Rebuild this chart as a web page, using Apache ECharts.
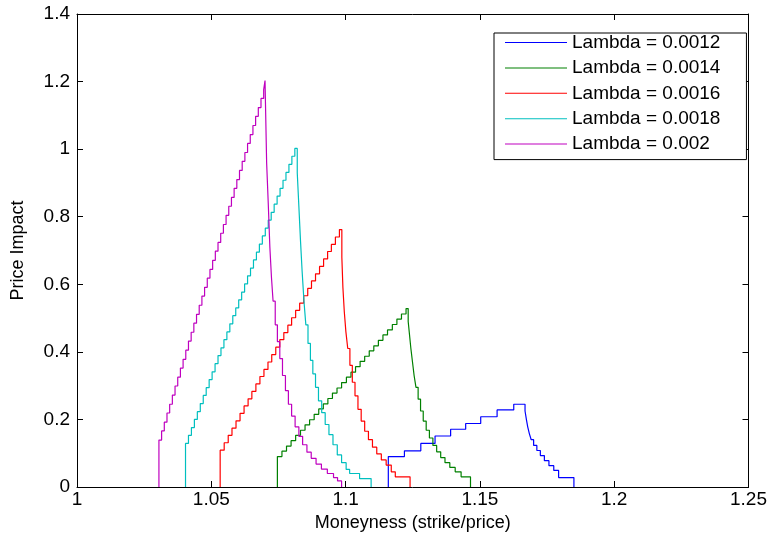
<!DOCTYPE html>
<html>
<head>
<meta charset="utf-8">
<script src="https://cdn.jsdelivr.net/npm/echarts@6/dist/echarts.min.js"></script>
<style>
  html, body { margin: 0; background: #fff; }
  #chart { width: 770px; height: 539px; }
</style>
</head>
<body>
<div id="chart"></div>
<script>
// x ticks / y ticks
const xTicks = [1, 1.05, 1.1, 1.15, 1.2, 1.25];
const yTicks = [0, 0.2, 0.4, 0.6, 0.8, 1, 1.2, 1.4];

const lambdas = ['0.0012', '0.0014', '0.0016', '0.0018', '0.002'];
const colors = ['#0000ff', '#008000', '#ff0000', '#00bfbf', '#bf00bf'];

// each curve: level start x (moneyness) and price impact level, drawn as a step line
const x0012 = [1.1159, 1.1159, 1.1219, 1.1280, 1.1333, 1.1391, 1.1447, 1.1503, 1.1564, 1.1626,
  1.1668, 1.1673, 1.1678, 1.1684, 1.1691, 1.1700, 1.1712, 1.1725, 1.1740, 1.1757, 1.1775, 1.1793, 1.1850];
const y0012 = [0, 0.090, 0.107, 0.129, 0.151, 0.171, 0.188, 0.208, 0.228, 0.245,
  0.225, 0.2, 0.178, 0.158, 0.14, 0.123, 0.108, 0.093, 0.078, 0.063, 0.049, 0.028, 0];

const x0014 = [1.0746, 1.0746, 1.0763, 1.0780, 1.0797, 1.0814, 1.0832, 1.0849, 1.0866, 1.0883, 1.0900,
  1.0917, 1.0934, 1.0951, 1.0968, 1.0985, 1.1003, 1.1020, 1.1037, 1.1054, 1.1071, 1.1088, 1.1105,
  1.1122, 1.1139, 1.1156, 1.1174, 1.1191, 1.1208, 1.1225,
  1.1233, 1.1238, 1.1243, 1.1249, 1.1255, 1.1262, 1.1270, 1.1279, 1.1289, 1.1300, 1.1312, 1.1325,
  1.1339, 1.1354, 1.1370, 1.1388, 1.1408, 1.1430, 1.1465];
const y0014 = [0, 0.090, 0.106, 0.121, 0.137, 0.153, 0.168, 0.184, 0.199, 0.215, 0.231,
  0.246, 0.262, 0.278, 0.293, 0.309, 0.325, 0.340, 0.356, 0.372, 0.387, 0.403, 0.418,
  0.434, 0.450, 0.465, 0.481, 0.497, 0.512, 0.528,
  0.49, 0.45, 0.41, 0.37, 0.33, 0.295, 0.26, 0.225, 0.195, 0.168, 0.145, 0.123,
  0.104, 0.087, 0.072, 0.058, 0.045, 0.03, 0];

const x0016 = [1.0533, 1.0533, 1.0548, 1.0563, 1.0577, 1.0592, 1.0607, 1.0622, 1.0637, 1.0651, 1.0666,
  1.0681, 1.0696, 1.0711, 1.0725, 1.0740, 1.0755, 1.0770, 1.0785, 1.0799, 1.0814, 1.0829, 1.0844,
  1.0859, 1.0873, 1.0888, 1.0903, 1.0918, 1.0933, 1.0947, 1.0962, 1.0977,
  1.0986, 1.0990, 1.0995, 1.1001, 1.1008, 1.1016, 1.1025, 1.1035, 1.1046, 1.1058, 1.1071, 1.1085,
  1.1100, 1.1116, 1.1133, 1.1151, 1.1170, 1.1185, 1.1240];
const y0016 = [0, 0.109, 0.131, 0.153, 0.174, 0.196, 0.218, 0.240, 0.261, 0.283, 0.305,
  0.327, 0.348, 0.370, 0.392, 0.414, 0.436, 0.457, 0.479, 0.501, 0.523, 0.544, 0.566,
  0.588, 0.610, 0.631, 0.653, 0.675, 0.697, 0.718, 0.740, 0.762,
  0.68, 0.59, 0.52, 0.46, 0.41, 0.36, 0.31, 0.27, 0.23, 0.195, 0.165, 0.14,
  0.118, 0.098, 0.08, 0.065, 0.045, 0.03, 0];

const x0018 = [1.0404, 1.0404, 1.0415, 1.0426, 1.0437, 1.0448, 1.0459, 1.0470, 1.0481, 1.0492, 1.0503,
  1.0514, 1.0525, 1.0536, 1.0547, 1.0558, 1.0569, 1.0580, 1.0591, 1.0602, 1.0613, 1.0624, 1.0635,
  1.0646, 1.0657, 1.0668, 1.0679, 1.0690, 1.0701, 1.0712, 1.0723, 1.0734, 1.0745, 1.0756, 1.0767,
  1.0778, 1.0789, 1.0800, 1.0811,
  1.0820, 1.0826, 1.0832, 1.0838, 1.0845, 1.0852, 1.0860, 1.0869, 1.0878, 1.0888, 1.0899, 1.0911,
  1.0924, 1.0938, 1.0953, 1.0969, 1.0985, 1.1002, 1.1015, 1.1052, 1.1095];
const y0018 = [0, 0.129, 0.153, 0.176, 0.200, 0.223, 0.247, 0.271, 0.294, 0.318, 0.341,
  0.365, 0.389, 0.412, 0.436, 0.459, 0.483, 0.507, 0.530, 0.554, 0.577, 0.601, 0.625,
  0.648, 0.672, 0.695, 0.719, 0.743, 0.766, 0.790, 0.813, 0.837, 0.861, 0.884, 0.908,
  0.931, 0.955, 0.979, 1.002,
  0.93, 0.83, 0.73, 0.64, 0.55, 0.48, 0.425, 0.375, 0.335, 0.295, 0.255, 0.22,
  0.185, 0.155, 0.125, 0.095, 0.072, 0.052, 0.04, 0.025, 0];

const x002 = [1.0305, 1.0305, 1.0315, 1.0325, 1.0335, 1.0345, 1.0355, 1.0365, 1.0375, 1.0385, 1.0395,
  1.0405, 1.0415, 1.0425, 1.0435, 1.0445, 1.0455, 1.0465, 1.0475, 1.0485, 1.0495,
  1.0505, 1.0515, 1.0525, 1.0535, 1.0545, 1.0555, 1.0565, 1.0575, 1.0585, 1.0595,
  1.0605, 1.0615, 1.0625, 1.0635, 1.0645, 1.0655, 1.0665, 1.0675, 1.0685, 1.0695, 1.0700,
  1.0706, 1.0712, 1.0718, 1.0724, 1.0730, 1.0738, 1.0746, 1.0755, 1.0765, 1.0776,
  1.0787, 1.0799, 1.0812, 1.0826, 1.0840, 1.0856, 1.0872, 1.0890, 1.0910, 1.0932,
  1.0955, 1.0970, 1.0985];
const y002 = [0, 0.139, 0.166, 0.192, 0.219, 0.245, 0.272, 0.299, 0.325, 0.352, 0.378,
  0.405, 0.432, 0.458, 0.485, 0.511, 0.538, 0.565, 0.591, 0.618, 0.644,
  0.671, 0.698, 0.724, 0.751, 0.777, 0.804, 0.831, 0.857, 0.884, 0.910,
  0.937, 0.964, 0.990, 1.017, 1.043, 1.070, 1.097, 1.123, 1.150, 1.176, 1.203,
  0.96, 0.84, 0.71, 0.62, 0.55, 0.48, 0.43, 0.38, 0.33, 0.285,
  0.245, 0.21, 0.178, 0.15, 0.125, 0.103, 0.085, 0.068, 0.053, 0.04,
  0.028, 0.018, 0];

const curvesX = [x0012, x0014, x0016, x0018, x002];
const curvesY = [y0012, y0014, y0016, y0018, y002];

const font = "'Liberation Sans', Arial, sans-serif";
const fmt = (v) => String(+v.toFixed(2));

const axisBase = {
  type: 'value',
  axisLine: { show: true, onZero: false, lineStyle: { color: '#000', width: 1 } },
  axisTick: { show: true, inside: true, length: 6, lineStyle: { color: '#000' } },
  splitLine: { show: false },
};

const chart = echarts.init(document.getElementById('chart'), null, { renderer: 'canvas' });

chart.setOption({
  backgroundColor: '#fff',
  animation: false,
  color: colors,
  grid: { left: 77, right: 18, top: 14, bottom: 52 },
  legend: {
    orient: 'vertical',
    left: 494,
    top: 33,
    icon: 'rect',
    itemWidth: 62,
    itemHeight: 1,
    itemGap: 6.4,
    padding: [0, 26, 6, 11],
    borderColor: '#000',
    borderWidth: 1,
    backgroundColor: '#fff',
    textStyle: { fontSize: 19, lineHeight: 18, color: '#000', fontFamily: font },
  },
  xAxis: [
    {
      ...axisBase,
      position: 'bottom',
      min: xTicks[0],
      max: xTicks[xTicks.length - 1],
      interval: 0.05,
      axisLabel: { color: '#000', fontSize: 19, fontFamily: font, margin: 3, formatter: fmt },
      name: 'Moneyness (strike/price)',
      nameLocation: 'middle',
      nameGap: 25,
      nameTextStyle: { color: '#000', fontSize: 18, fontFamily: font, verticalAlign: 'top' },
    },
    {
      ...axisBase,
      position: 'top',
      min: xTicks[0],
      max: xTicks[xTicks.length - 1],
      interval: 0.05,
      axisLabel: { show: false },
    },
  ],
  yAxis: [
    {
      ...axisBase,
      position: 'left',
      min: yTicks[0],
      max: yTicks[yTicks.length - 1],
      interval: 0.2,
      axisLabel: { color: '#000', fontSize: 19, fontFamily: font, margin: 7, formatter: fmt },
      name: 'Price Impact',
      nameLocation: 'middle',
      nameGap: 50,
      nameTextStyle: { color: '#000', fontSize: 18, fontFamily: font },
    },
    {
      ...axisBase,
      position: 'right',
      min: yTicks[0],
      max: yTicks[yTicks.length - 1],
      interval: 0.2,
      axisLabel: { show: false },
    },
  ],
  series: lambdas.map((lam, i) => ({
    name: 'Lambda = ' + lam,
    type: 'line',
    step: 'end',
    symbol: 'none',
    showSymbol: false,
    xAxisIndex: 0,
    yAxisIndex: 0,
    lineStyle: { width: 1.2, color: colors[i] },
    data: curvesX[i].map((x, j) => [x, curvesY[i][j]]),
  })),
});
</script>
</body>
</html>
